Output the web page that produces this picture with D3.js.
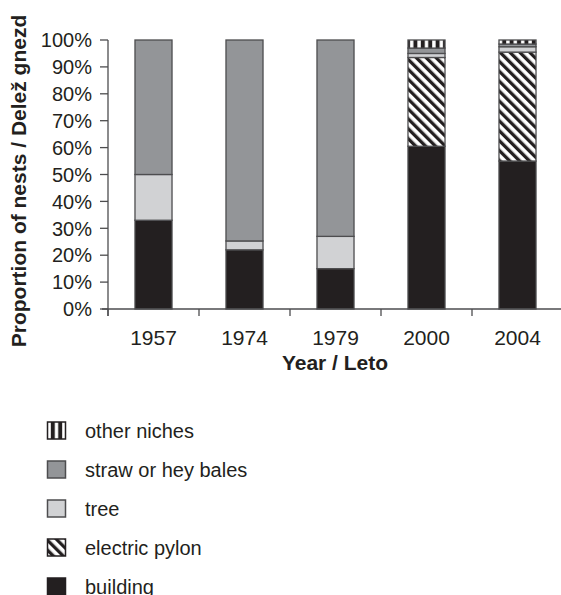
<!DOCTYPE html>
<html><head><meta charset="utf-8">
<script src="https://cdn.jsdelivr.net/npm/d3@7"></script>
<style>body{margin:0;background:#fff}svg{display:block}</style>
</head><body>
<svg id="c" width="561" height="595"></svg>
<script>
const years = ["1957","1974","1979","2000","2004"];
const building = [33, 22, 15, 60.5, 55];
const pylon    = [0, 0, 0, 33, 40.5];
const tree     = [17, 3.3, 12, 1.5, 2];
const straw    = [50, 74.7, 73, 2, 1];
const other    = [0, 0, 0, 3, 1.5];
const yTicks = [0,10,20,30,40,50,60,70,80,90,100];
const seriesNames = ["building","electric pylon","tree","straw or hey bales","other niches"];
const legendOrder = ["other niches","straw or hey bales","tree","electric pylon","building"];

const svg = d3.select("#c");
const font = "'Liberation Sans', Arial, sans-serif";
const ink = "#231f20";
const defs = svg.append("defs");
const pp = defs.append("pattern").attr("id","pyl").attr("patternUnits","userSpaceOnUse")
  .attr("width",7).attr("height",7).attr("patternTransform","rotate(-45)");
pp.append("rect").attr("width",7).attr("height",7).attr("fill","#fff");
pp.append("rect").attr("width",3.3).attr("height",7).attr("fill",ink);
const po = defs.append("pattern").attr("id","oth").attr("patternUnits","userSpaceOnUse")
  .attr("width",7.4).attr("height",10).attr("x",1);
po.append("rect").attr("width",7.4).attr("height",10).attr("fill",ink);
po.append("rect").attr("x",2).attr("width",3.4).attr("height",10).attr("fill","#fff");

const fills = {"building":ink,"electric pylon":"url(#pyl)","tree":"#d1d2d4","straw or hey bales":"#939598","other niches":"url(#oth)"};
const rows = years.map((y,i)=>({year:y,"building":building[i],"electric pylon":pylon[i],"tree":tree[i],"straw or hey bales":straw[i],"other niches":other[i]}));
const stack = d3.stack().keys(seriesNames)(rows);

const x = d3.scaleBand().domain(years).range([108,563]).paddingInner(0.593).paddingOuter(0.2965);
const y = d3.scaleLinear().domain([0,100]).range([309,40]);

// bars
stack.forEach(s=>{
  svg.append("g").selectAll("rect").data(s).join("rect")
    .attr("x",d=>x(d.data.year)).attr("width",x.bandwidth())
    .attr("y",d=>y(d[1])).attr("height",d=>y(d[0])-y(d[1]))
    .attr("fill",fills[s.key])
    .attr("stroke",d=>(d[1]-d[0])>0?"#4d4d4f":"none").attr("stroke-width",1.3);
});

// y axis
const ax = svg.append("g");
ax.append("line").attr("x1",108).attr("x2",108).attr("y1",40).attr("y2",316).attr("stroke","#4d4d4f").attr("stroke-width",1.3);
ax.selectAll(".yt").data(yTicks).join("line").attr("x1",100).attr("x2",108)
  .attr("y1",d=>y(d)).attr("y2",d=>y(d)).attr("stroke","#4d4d4f").attr("stroke-width",1.3);
ax.selectAll(".yl").data(yTicks).join("text").attr("x",92).attr("y",d=>y(d)).attr("dy","0.36em")
  .attr("text-anchor","end").attr("font-family",font).attr("font-size",20).attr("fill",ink).text(d=>d+"%");
// x axis
ax.append("line").attr("x1",102).attr("x2",561).attr("y1",309).attr("y2",309).attr("stroke","#4d4d4f").attr("stroke-width",1.3);
const bounds = d3.range(years.length+1).map(i=>x.range()[0]+i*x.step());
ax.selectAll(".xt").data(bounds).join("line").attr("x1",d=>d).attr("x2",d=>d)
  .attr("y1",309).attr("y2",316).attr("stroke","#4d4d4f").attr("stroke-width",1.3);
ax.selectAll(".xl").data(years).join("text").attr("x",d=>x(d)+x.bandwidth()/2).attr("y",345)
  .attr("text-anchor","middle").attr("font-family",font).attr("font-size",21).attr("fill",ink).text(d=>d);

svg.append("text").attr("x",335).attr("y",370).attr("text-anchor","middle")
  .attr("font-family",font).attr("font-weight","bold").attr("font-size",21).attr("fill",ink).text("Year / Leto");
svg.append("text").attr("transform","translate(26,181) rotate(-90)").attr("text-anchor","middle")
  .attr("font-family",font).attr("font-weight","bold").attr("font-size",21).attr("fill",ink).text("Proportion of nests / Delež gnezd");

// legend
const lg = svg.append("g");
legendOrder.forEach((k,i)=>{
  const cy = 430.5 + i*39;
  lg.append("rect").attr("x",47.5).attr("y",cy-8.5).attr("width",18).attr("height",17)
    .attr("fill",fills[k]).attr("stroke",k==="building"||k==="electric pylon"||k==="other niches"?ink:"#4d4d4f").attr("stroke-width",1.5);
  lg.append("text").attr("x",85).attr("y",cy).attr("dy","0.36em").attr("font-family",font)
    .attr("font-size",20).attr("fill",ink).text(k);
});
</script>
</body></html>
